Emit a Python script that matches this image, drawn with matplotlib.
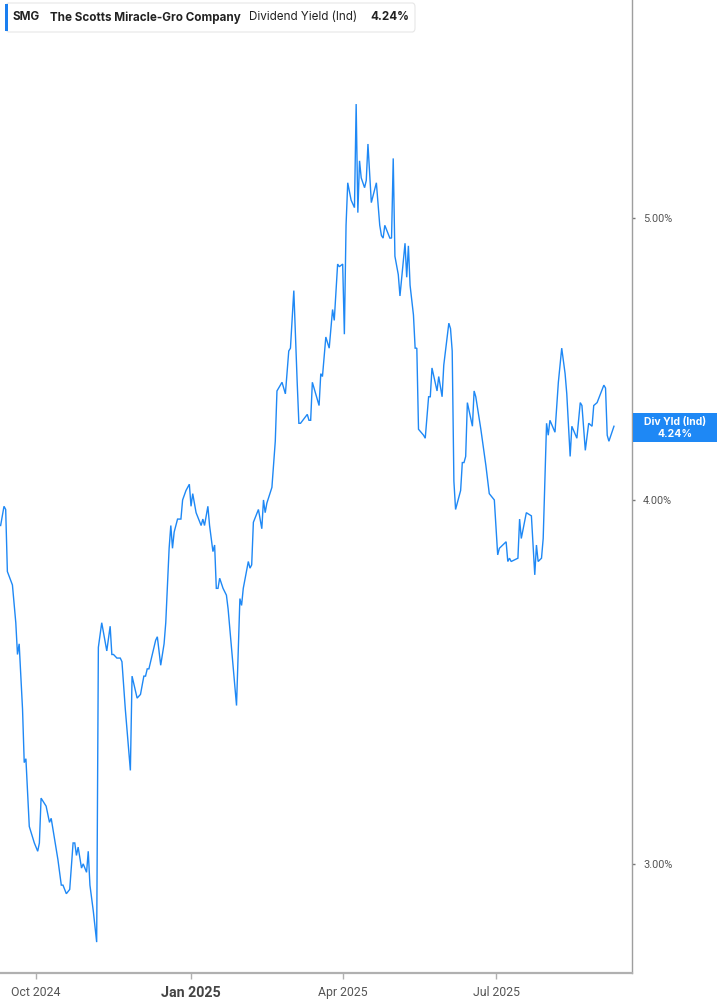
import matplotlib
matplotlib.use("Agg")
import matplotlib.pyplot as plt
from matplotlib.patches import FancyBboxPatch, Rectangle
import pandas as pd
import numpy as np

plt.rcParams['font.family'] = ['Inter', 'DejaVu Sans']

# ---- data ----
ticker = "SMG"
company = "The Scotts Miracle-Gro Company"
metric = "Dividend Yield (Ind)"
last_label = "4.24%"
badge_label = "Div Yld (Ind)"

dates_2024 = [
    "2024-09-10", "2024-09-12", "2024-09-13", "2024-09-14", "2024-09-17", "2024-09-19",
    "2024-09-20", "2024-09-21", "2024-09-23", "2024-09-24", "2024-09-25", "2024-09-27",
    "2024-09-30", "2024-10-02", "2024-10-03", "2024-10-04", "2024-10-07", "2024-10-09",
    "2024-10-10", "2024-10-12", "2024-10-14", "2024-10-16", "2024-10-17", "2024-10-19",
    "2024-10-21", "2024-10-23", "2024-10-24", "2024-10-25", "2024-10-26", "2024-10-28",
    "2024-10-29", "2024-10-31", "2024-11-01", "2024-11-02", "2024-11-04", "2024-11-06",
    "2024-11-07", "2024-11-09", "2024-11-12", "2024-11-14", "2024-11-15", "2024-11-16",
    "2024-11-18", "2024-11-20", "2024-11-21", "2024-11-23", "2024-11-26", "2024-11-27",
    "2024-11-30", "2024-12-02", "2024-12-04", "2024-12-05", "2024-12-06", "2024-12-07",
    "2024-12-09", "2024-12-11", "2024-12-12", "2024-12-14", "2024-12-16", "2024-12-17",
    "2024-12-19", "2024-12-20", "2024-12-21", "2024-12-22", "2024-12-24", "2024-12-26",
    "2024-12-27", "2024-12-29", "2024-12-31",
]
yield_2024 = [
    3.92, 3.98, 3.97, 3.78, 3.74, 3.63,
    3.54, 3.57, 3.39, 3.25, 3.26, 3.09,
    3.05, 3.03, 3.05, 3.16, 3.14, 3.10,
    3.11, 3.06, 3.01, 2.95, 2.95, 2.93,
    2.94, 3.05, 3.05, 3.02, 3.04, 2.99,
    3.00, 2.98, 3.03, 2.95, 2.89, 2.82,
    3.56, 3.63, 3.55, 3.62, 3.54, 3.54,
    3.53, 3.53, 3.52, 3.39, 3.23, 3.48,
    3.42, 3.43, 3.48, 3.48, 3.50, 3.50,
    3.54, 3.58, 3.59, 3.51, 3.57, 3.63,
    3.85, 3.92, 3.85, 3.90, 3.94, 3.94,
    4.00, 4.03, 4.05,
]

dates_2025 = [
    "2025-01-01", "2025-01-02", "2025-01-04", "2025-01-07", "2025-01-08", "2025-01-09",
    "2025-01-11", "2025-01-12", "2025-01-14", "2025-01-15", "2025-01-16", "2025-01-17",
    "2025-01-18", "2025-01-20", "2025-01-22", "2025-01-23", "2025-01-28", "2025-01-30",
    "2025-01-31", "2025-02-01", "2025-02-04", "2025-02-05", "2025-02-06", "2025-02-07",
    "2025-02-10", "2025-02-12", "2025-02-13", "2025-02-14", "2025-02-15", "2025-02-18",
    "2025-02-20", "2025-02-21", "2025-02-24", "2025-02-26", "2025-02-28", "2025-03-01",
    "2025-03-03", "2025-03-05", "2025-03-06", "2025-03-07", "2025-03-11", "2025-03-12",
    "2025-03-13", "2025-03-14", "2025-03-16", "2025-03-18", "2025-03-19", "2025-03-20",
    "2025-03-22", "2025-03-24", "2025-03-26", "2025-03-27", "2025-03-29", "2025-03-30",
    "2025-04-01", "2025-04-02", "2025-04-03", "2025-04-04", "2025-04-06", "2025-04-08",
    "2025-04-09", "2025-04-10", "2025-04-11", "2025-04-12", "2025-04-14", "2025-04-15",
    "2025-04-16", "2025-04-18", "2025-04-21", "2025-04-23", "2025-04-24", "2025-04-25",
    "2025-04-26", "2025-04-29", "2025-04-30", "2025-05-01", "2025-05-02", "2025-05-04",
    "2025-05-05", "2025-05-08", "2025-05-09", "2025-05-10", "2025-05-11", "2025-05-13",
    "2025-05-14", "2025-05-15", "2025-05-16", "2025-05-19", "2025-05-20", "2025-05-22",
    "2025-05-23", "2025-05-24", "2025-05-27", "2025-05-28", "2025-05-30", "2025-05-31",
    "2025-06-03", "2025-06-04", "2025-06-05", "2025-06-06", "2025-06-07", "2025-06-10",
    "2025-06-11", "2025-06-12", "2025-06-13", "2025-06-14", "2025-06-17", "2025-06-18",
    "2025-06-19", "2025-06-22", "2025-06-25", "2025-06-27", "2025-06-30", "2025-07-02",
    "2025-07-03", "2025-07-07", "2025-07-08", "2025-07-09", "2025-07-10", "2025-07-14",
    "2025-07-15", "2025-07-16", "2025-07-19", "2025-07-22", "2025-07-24", "2025-07-25",
    "2025-07-26", "2025-07-28", "2025-07-29", "2025-07-31", "2025-08-01", "2025-08-02",
    "2025-08-05", "2025-08-07", "2025-08-09", "2025-08-11", "2025-08-12", "2025-08-14",
    "2025-08-15", "2025-08-18", "2025-08-20", "2025-08-21", "2025-08-23", "2025-08-25",
    "2025-08-27", "2025-08-28", "2025-08-30", "2025-09-03", "2025-09-04", "2025-09-05",
    "2025-09-06", "2025-09-09",
]
yield_2025 = [
    3.98, 4.02, 3.96, 3.92, 3.94, 3.92,
    3.98, 3.92, 3.84, 3.86, 3.73, 3.73,
    3.76, 3.73, 3.71, 3.67, 3.40, 3.70,
    3.68, 3.73, 3.81, 3.79, 3.80, 3.93,
    3.97, 3.91, 4.00, 3.96, 3.99, 4.04,
    4.19, 4.36, 4.39, 4.35, 4.50, 4.51,
    4.72, 4.39, 4.25, 4.25, 4.28, 4.26,
    4.26, 4.39, 4.35, 4.31, 4.42, 4.41,
    4.55, 4.51, 4.65, 4.61, 4.82, 4.81,
    4.82, 4.56, 4.97, 5.14, 5.07, 5.04,
    5.47, 5.02, 5.23, 5.16, 5.12, 5.15,
    5.30, 5.06, 5.14, 4.97, 4.93, 4.92,
    4.97, 4.92, 4.92, 5.24, 4.85, 4.78,
    4.70, 4.90, 4.77, 4.89, 4.74, 4.63,
    4.51, 4.51, 4.23, 4.21, 4.20, 4.34,
    4.34, 4.44, 4.36, 4.41, 4.34, 4.45,
    4.60, 4.58, 4.50, 4.06, 3.97, 4.03,
    4.12, 4.12, 4.14, 4.32, 4.24, 4.36,
    4.34, 4.23, 4.11, 4.02, 4.00, 3.83,
    3.85, 3.87, 3.81, 3.82, 3.81, 3.82,
    3.94, 3.88, 3.96, 3.95, 3.77, 3.86,
    3.81, 3.82, 3.88, 4.25, 4.21, 4.26,
    4.22, 4.39, 4.51, 4.42, 4.35, 4.14,
    4.24, 4.20, 4.32, 4.31, 4.16, 4.25,
    4.24, 4.31, 4.32, 4.38, 4.37, 4.21,
    4.19, 4.24,
]

ytick_values = [3.0, 4.0, 5.0]
ytick_labels = ["3.00%", "4.00%", "5.00%"]
xtick_dates = ["2024-10-01", "2025-01-01", "2025-04-01", "2025-07-01"]
xtick_labels = ["Oct 2024", "Jan 2025", "Apr 2025", "Jul 2025"]

# ---- figure ----
W, H = 717, 1005
fig = plt.figure(figsize=(W / 100, H / 100), dpi=100)
fig.patch.set_facecolor("white")

ax_left, ax_right, ax_top, ax_bottom = 0, 632, 0, 973
ax = fig.add_axes([ax_left / W, 1 - ax_bottom / H, (ax_right - ax_left) / W, (ax_bottom - ax_top) / H])

line_color = "#1e88f5"
dates = pd.to_datetime(dates_2024 + dates_2025)
vals = np.array(yield_2024 + yield_2025)
ax.plot(dates, vals, color=line_color, lw=1.0, solid_joinstyle="miter")

ax.set_yscale("log")
ax.set_ylim(2.752, 5.939)
ax.set_xlim(pd.Timestamp("2024-09-09 15:00"), pd.Timestamp("2025-09-19 17:00"))

for s in ["left", "top"]:
    ax.spines[s].set_visible(False)
ax.spines["right"].set_color("#9e9e9e")
ax.spines["right"].set_linewidth(1.0)
ax.spines["bottom"].set_color("#b0b0b0")
ax.spines["bottom"].set_linewidth(1.6)

ax.yaxis.tick_right()
ax.yaxis.set_minor_locator(matplotlib.ticker.NullLocator())
ax.yaxis.set_minor_formatter(matplotlib.ticker.NullFormatter())
ax.set_yticks(ytick_values)
ax.set_yticklabels(ytick_labels)
ax.tick_params(axis="y", which="major", length=2.5, width=1, color="#777777",
               pad=5.5, labelsize=7.8, labelcolor="#555555")
for lbl in ax.get_yticklabels():
    lbl.set_family(["Roboto", "DejaVu Sans"])

ax.set_xticks(pd.to_datetime(xtick_dates))
ax.set_xticklabels(xtick_labels)
ax.xaxis.set_minor_locator(matplotlib.ticker.NullLocator())
ax.tick_params(axis="x", which="major", length=4, width=1, color="#b0b0b0",
               pad=5, labelsize=8.8, labelcolor="#555555")
for lbl in ax.get_xticklabels():
    lbl.set_family(["Roboto", "DejaVu Sans"])
    if lbl.get_text() == "Jan 2025":
        lbl.set_fontweight("bold")
        lbl.set_fontsize(10.3)
        lbl.set_color("#444444")
ax.set_facecolor("white")

# ---- header legend ----
def fx(px):
    return px / W

def fy(py):
    return 1 - py / H

box = FancyBboxPatch((fx(6), fy(32)), fx(415) - fx(6), fy(3) - fy(32),
                     boxstyle="round,pad=0,rounding_size=0.004",
                     transform=fig.transFigure, facecolor="white",
                     edgecolor="#e6e6e6", linewidth=0.8)
fig.patches.append(box)
bar = Rectangle((fx(5), fy(31)), fx(8) - fx(5), fy(4) - fy(31),
                transform=fig.transFigure, facecolor="#1a7ff0", edgecolor="none")
fig.patches.append(bar)

ty = fy(17.5)
hs = 8.4
fig.text(fx(13), ty, ticker, fontsize=hs, fontweight="bold", color="#222222", va="center")
fig.text(fx(50), ty, company, fontsize=hs, fontweight="bold", color="#222222", va="center")
fig.text(fx(249), ty, metric, fontsize=hs, color="#222222", va="center")
fig.text(fx(370), ty, last_label, fontsize=hs, fontweight="bold", color="#222222", va="center")

# ---- right badge ----
badge = Rectangle((fx(633), fy(442)), fx(717) - fx(633), fy(413) - fy(442),
                  transform=fig.transFigure, facecolor="#1e88f5", edgecolor="none")
fig.patches.append(badge)
fig.text(fx(675), fy(422), badge_label, fontsize=7.5, fontweight="bold", color="white",
         ha="center", va="center")
fig.text(fx(675), fy(434), last_label, fontsize=7.5, fontweight="bold", color="white",
         ha="center", va="center")

fig.savefig("out.png", dpi=100, facecolor="white")
